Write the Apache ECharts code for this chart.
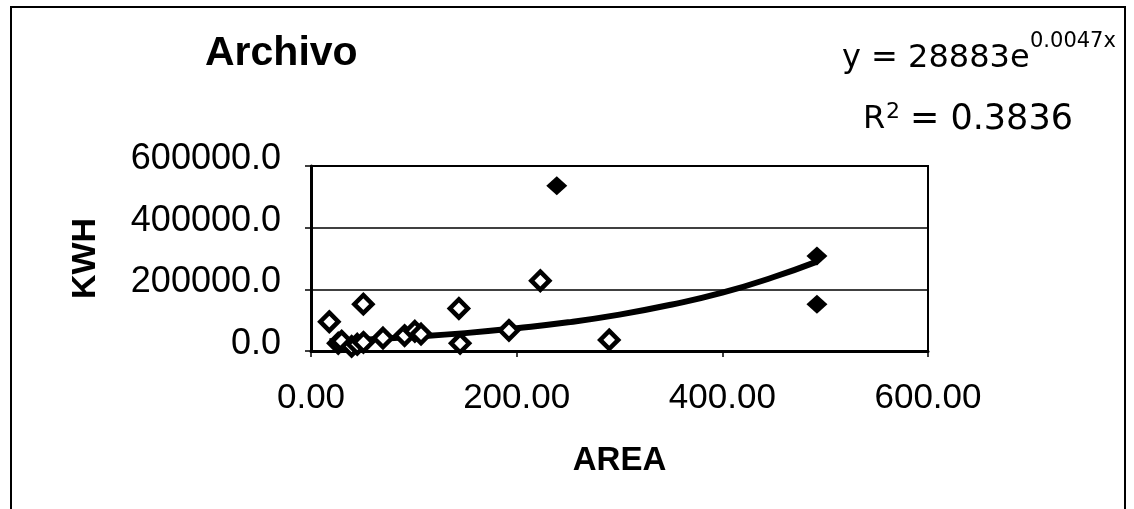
<!DOCTYPE html>
<html>
<head>
<meta charset="utf-8">
<script src="https://cdn.jsdelivr.net/npm/echarts@6/dist/echarts.min.js"></script>
<style>
html,body{margin:0;padding:0;background:#fff;}
#chart{width:1134px;height:509px;}
</style>
</head>
<body>
<div id="chart"></div>
<script>
// Hollow (scanned) diamond points: [AREA, KWH]
const openPoints = [
  [17.8, 95000], [26.5, 25000], [29.8, 32000], [39.5, 15000], [45, 22000],
  [50.9, 152000], [51, 28000], [70, 42000], [91, 50000], [101, 64000],
  [107, 55000], [143.8, 138000], [145, 25000], [192.5, 67000], [223, 228000],
  [290, 36000]
];
// Solid diamond points
const solidPoints = [[239, 536000], [492, 308000], [492, 152000]];
// Exponential trendline, values
const trendX = [18, 50, 100, 150, 200, 250, 300, 350, 400, 450, 492];
const trendY = [31500, 36500, 46000, 58000, 74000, 93000, 118000, 150000, 189000, 240000, 290000];
// Axis settings / labels
const xTicks = [0, 200, 400, 600];
const yTicks = [0, 200000, 400000, 600000];
const titleText = 'Archivo';
const xName = 'AREA';
const yName = 'KWH';
const eqMain = 'y = 28883e';
const eqExp = '0.0047x';
const r2Text = '= 0.3836';

const trendData = trendX.map((x, i) => [x, trendY[i]]);
const chart = echarts.init(document.getElementById('chart'), null, {renderer: 'canvas'});
const FONT = '"Liberation Sans", Arial, sans-serif';
const DFONT = '"DejaVu Sans", sans-serif';

chart.setOption({
  animation: false,
  backgroundColor: '#fff',
  grid: {left: 311, top: 166, right: 206, bottom: 158, show: true, borderColor: '#000', borderWidth: 2, backgroundColor: 'transparent'},
  xAxis: {
    type: 'value', min: xTicks[0], max: xTicks[xTicks.length - 1], interval: 200,
    name: xName, nameLocation: 'middle', nameGap: 93,
    nameTextStyle: {fontFamily: FONT, fontWeight: 'bold', fontSize: 33, color: '#000'},
    axisLine: {show: true, onZero: false, lineStyle: {color: '#000', width: 3}},
    axisTick: {show: true, inside: false, length: 6, lineStyle: {color: '#000', width: 1.5}},
    axisLabel: {margin: 30, fontFamily: FONT, fontSize: 35, color: '#000', formatter: v => v.toFixed(2)},
    splitLine: {show: false}
  },
  yAxis: {
    type: 'value', min: yTicks[0], max: yTicks[yTicks.length - 1], interval: 200000,
    name: yName, nameLocation: 'middle', nameGap: 208, nameRotate: 90,
    nameTextStyle: {fontFamily: FONT, fontWeight: 'bold', fontSize: 34, color: '#000'},
    axisLine: {show: true, onZero: false, lineStyle: {color: '#000', width: 3}},
    axisTick: {show: true, inside: false, length: 6, lineStyle: {color: '#000', width: 1.5}},
    axisLabel: {margin: 30, fontFamily: FONT, fontSize: 36, color: '#000', verticalAlign: 'bottom', lineHeight: 14, formatter: v => v.toFixed(1)},
    splitLine: {show: true, lineStyle: {color: '#000', width: 1.5}}
  },
  series: [
    {
      type: 'line', data: trendData, smooth: true, showSymbol: false, z: 2,
      lineStyle: {color: '#000', width: 6}, silent: true
    },
    {
      type: 'scatter', data: openPoints, symbol: 'diamond', symbolSize: 18, z: 3,
      itemStyle: {color: '#fff', borderColor: '#000', borderWidth: 4.5, opacity: 1}
    },
    {
      type: 'scatter', data: solidPoints, symbol: 'diamond', symbolSize: [21, 19], z: 3,
      itemStyle: {color: '#000', borderColor: '#000', borderWidth: 0, opacity: 1}
    }
  ],
  graphic: [
    {type: 'rect', silent: true, z: 0, shape: {x: 11, y: 7, width: 1114, height: 520},
     style: {fill: 'none', stroke: '#000', lineWidth: 2}},
    {type: 'text', x: 205, y: 54, silent: true,
     style: {text: titleText, font: 'bold 41px ' + FONT, fill: '#000', align: 'left', verticalAlign: 'middle'}},
    {type: 'text', x: 842, y: 59, silent: true,
     style: {text: eqMain, font: '32px ' + DFONT, fill: '#000', align: 'left', verticalAlign: 'middle'}},
    {type: 'text', x: 1030, y: 42, silent: true,
     style: {text: eqExp, font: '21px ' + DFONT, fill: '#000', align: 'left', verticalAlign: 'middle'}},
    {type: 'text', x: 863, y: 120, silent: true,
     style: {text: 'R', font: '32px ' + DFONT, fill: '#000', align: 'left', verticalAlign: 'middle'}},
    {type: 'text', x: 886, y: 112, silent: true,
     style: {text: '2', font: '22px ' + DFONT, fill: '#000', align: 'left', verticalAlign: 'middle'}},
    {type: 'text', x: 910, y: 120, silent: true,
     style: {text: r2Text, font: '35px ' + DFONT, fill: '#000', align: 'left', verticalAlign: 'middle'}}
  ]
});
</script>
</body>
</html>
